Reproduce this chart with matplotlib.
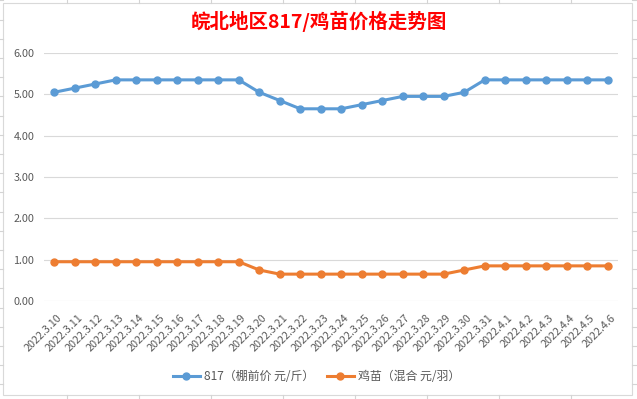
import numpy as np
import matplotlib
matplotlib.use("Agg")
import matplotlib.pyplot as plt
import matplotlib.transforms as mtransforms
from matplotlib.patches import Rectangle

plt.rcParams['font.family'] = ['Noto Sans CJK SC', 'DejaVu Sans']

dates = ["2022.3.10", "2022.3.11", "2022.3.12", "2022.3.13", "2022.3.14",
         "2022.3.15", "2022.3.16", "2022.3.17", "2022.3.18", "2022.3.19",
         "2022.3.20", "2022.3.21", "2022.3.22", "2022.3.23", "2022.3.24",
         "2022.3.25", "2022.3.26", "2022.3.27", "2022.3.28", "2022.3.29",
         "2022.3.30", "2022.3.31", "2022.4.1", "2022.4.2", "2022.4.3",
         "2022.4.4", "2022.4.5", "2022.4.6"]
price_817 = [5.05, 5.15, 5.25, 5.35, 5.35, 5.35, 5.35, 5.35, 5.35, 5.35,
             5.05, 4.85, 4.65, 4.65, 4.65, 4.75, 4.85, 4.95, 4.95, 4.95,
             5.05, 5.35, 5.35, 5.35, 5.35, 5.35, 5.35, 5.35]
price_chick = [0.95, 0.95, 0.95, 0.95, 0.95, 0.95, 0.95, 0.95, 0.95, 0.95,
               0.75, 0.65, 0.65, 0.65, 0.65, 0.65, 0.65, 0.65, 0.65, 0.65,
               0.75, 0.85, 0.85, 0.85, 0.85, 0.85, 0.85, 0.85]
yticks = [0, 1, 2, 3, 4, 5, 6]

W, H = 637, 399
fig = plt.figure(figsize=(W / 100, H / 100), dpi=100)

# background layer: excel frame + sheet grid stubs
bg = fig.add_axes([0, 0, 1, 1], zorder=-1)
bg.set_xlim(0, W)
bg.set_ylim(H, 0)
bg.axis("off")
grid_c = "#d4d4d4"
for k in range(9):
    x = 67 + 72 * k
    bg.plot([x, x], [0, 3], color=grid_c, lw=0.8)
    bg.plot([x, x], [395, H], color=grid_c, lw=0.8)
for k in range(-8, 14):
    y = 250 - 19.2 * k
    bg.plot([0, 3], [y, y], color=grid_c, lw=0.8)
    bg.plot([632, W], [y, y], color=grid_c, lw=0.8)
bg.add_patch(Rectangle((3, 3), 629, 392, fill=False, ec="#d9d9d9", lw=0.8))

ax = fig.add_axes([44 / W, (H - 301) / H, 574 / W, 248 / H])
x = np.arange(len(dates))
ax.plot(x, price_817, color="#5b9bd5", lw=2.2, marker="o", ms=5,
        label="817（棚前价 元/斤）")
ax.plot(x, price_chick, color="#ed7d31", lw=2.2, marker="o", ms=5,
        label="鸡苗（混合 元/羽）")

ax.set_xlim(-0.5, len(dates) - 0.5)
ax.set_ylim(0, 6)
ax.set_yticks(yticks)
ax.set_yticklabels(["%.2f" % v for v in yticks])
ax.set_xticks(x)
ax.set_xticklabels(dates)
ax.grid(axis="y", color="#d9d9d9", lw=0.8)
ax.set_axisbelow(True)
for s in ax.spines.values():
    s.set_visible(False)
ax.tick_params(length=0, labelsize=7.8, labelcolor="#595959")
ax.tick_params(axis="y", pad=7)
ax.tick_params(axis="x", pad=11)
shift = mtransforms.ScaledTranslation(6 / 100, 0, fig.dpi_scale_trans)
for lab in ax.get_xticklabels():
    lab.set_rotation(45)
    lab.set_ha("right")
    lab.set_va("center")
    lab.set_rotation_mode("anchor")
    lab.set_transform(lab.get_transform() + shift)

fig.text(0.5, 1 - 21 / H, "皖北地区817/鸡苗价格走势图", color="red",
         fontsize=14, fontweight="bold", ha="center", va="center")

fig.legend(loc="center", bbox_to_anchor=(0.497, 1 - 377 / H), ncol=2,
           frameon=False, fontsize=8.6, labelcolor="#595959",
           handlelength=2.3, columnspacing=1.0, handletextpad=0.35)

fig.savefig("out.png", dpi=100)
